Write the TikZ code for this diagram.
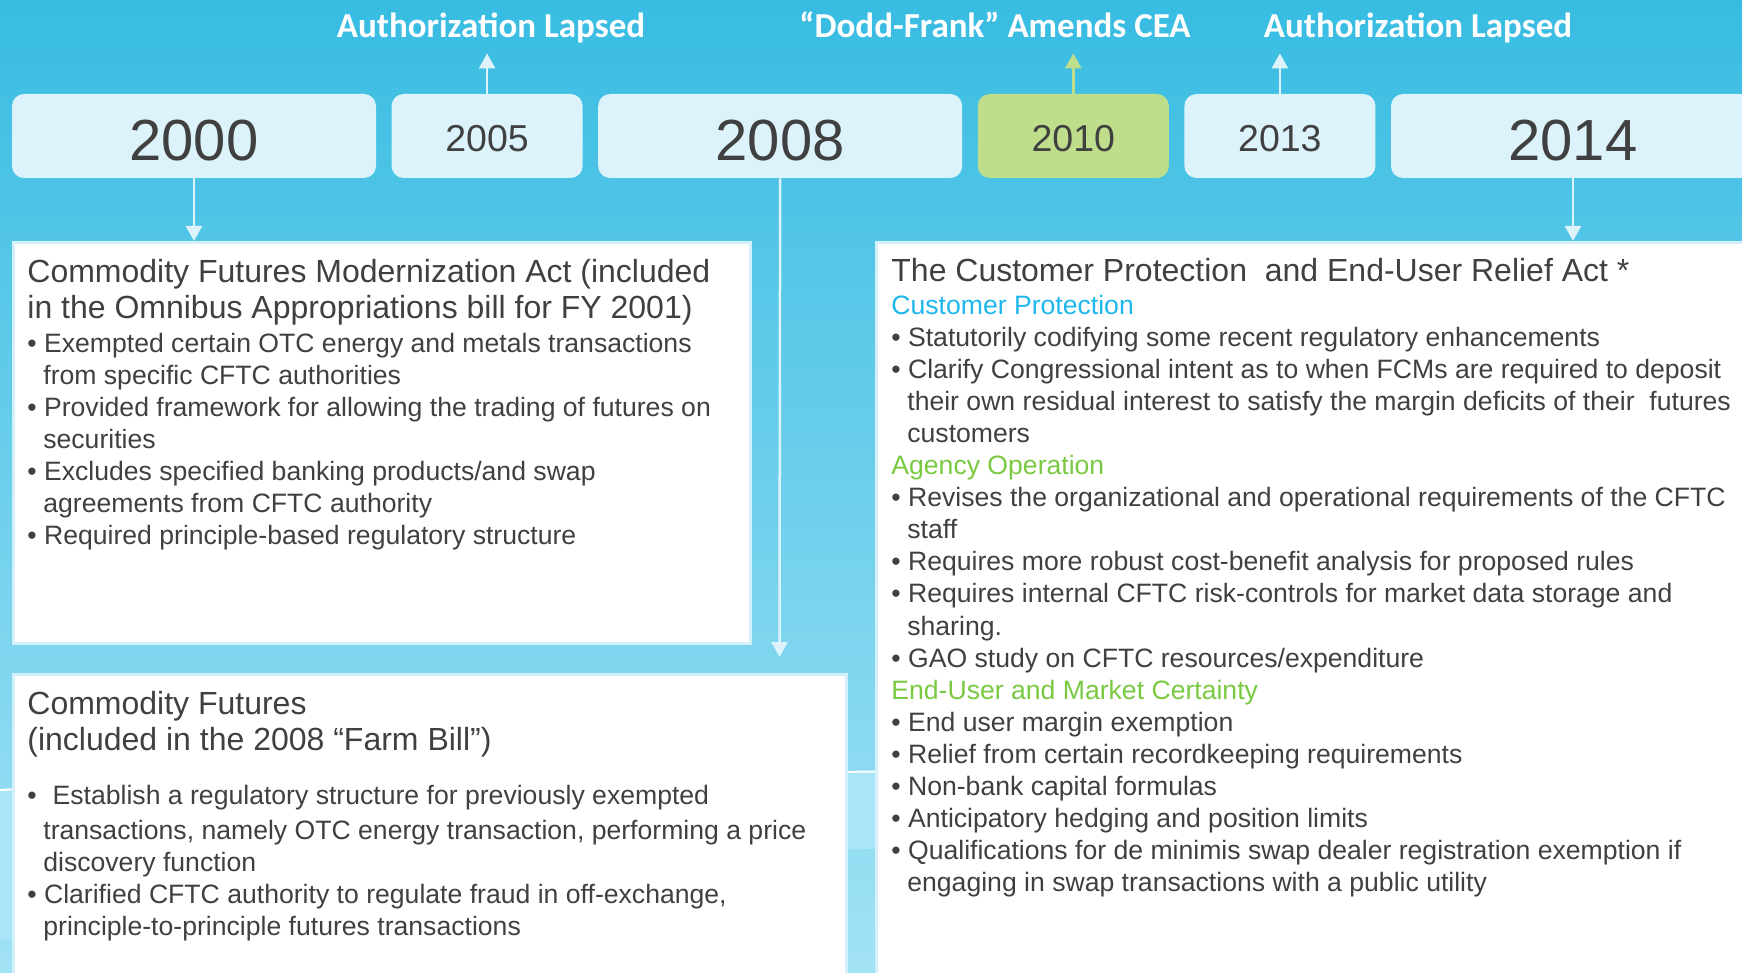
\documentclass[tikz,border=0pt]{standalone}
\usepackage{fontspec}
\setmainfont{Liberation Sans}
\newfontfamily\labelfont{Carlito}
\usetikzlibrary{positioning,arrows.meta}
\definecolor{bgtop}{HTML}{38BCE2}
\definecolor{bgbottom}{HTML}{A2E2F5}
\definecolor{wavelight}{HTML}{A9E5F7}
\definecolor{yearfill}{HTML}{DDF3FB}
\definecolor{greenfill}{HTML}{BEDE8C}
\definecolor{textgray}{HTML}{404040}
\definecolor{panelline}{HTML}{D4F0FA}
\definecolor{cpblue}{HTML}{1DB7EC}
\definecolor{aggreen}{HTML}{7AC943}
\newcommand{\itm}{\textbullet\ }
\newcommand{\contind}{\hspace*{0.6em}}
\tikzset{year box/.style={rectangle,rounded corners=6pt,fill=yearfill,text=textgray,minimum height=42pt,inner sep=0pt,text depth=0pt},
big year/.style={year box,minimum width=182pt,text height=24.5pt,font=\fontsize{29}{34}\selectfont},
small year/.style={year box,minimum width=95.5pt,text height=15.4pt,font=\fontsize{18.75}{22}\selectfont},
panel/.style={rectangle,fill=white,draw=panelline,line width=1.5pt,anchor=north west,inner sep=0pt},
title text/.style={anchor=base west,align=left,inner sep=0pt,text=textgray,font=\fontsize{16}{18}\selectfont},
body text/.style={anchor=base west,align=left,inner sep=0pt,text=textgray,font=\fontsize{13.3}{16.05}\selectfont},
event label/.style={anchor=base,inner sep=4pt,text depth=3.5pt,text=white,font=\labelfont\bfseries\fontsize{17.5}{21}\selectfont},
link/.style={color=yearfill,line width=1.25pt,-{Triangle[width=8pt,length=7.5pt]}},
}

\begin{document}
\begin{tikzpicture}[x=0.5pt,y=-0.5pt,node distance=7.4pt]
	\clip (0,0) rectangle (1742,973);
	\shade[top color=bgtop,bottom color=bgbottom] (0,0) rectangle (1742,973);
	\fill[wavelight] (0,790) .. controls (500,760) and (1000,790) .. (1742,740)
		-- (1742,900) .. controls (1200,830) and (600,820) .. (0,940) -- cycle;
	\draw[white,line width=1pt] (0,790) .. controls (500,760) and (1000,790) .. (1742,740);
	
	% years
	\node[big year] (y2000) at (194,136) {2000};
	\node[small year] (y2005) [right = of y2000] {2005};
	\node[big year] (y2008) [right = of y2005] {2008};
	\node[small year,fill=greenfill] (y2010) [right = of y2008] {2010};
	\node[small year] (y2013) [right = of y2010] {2013};
	\node[big year] (y2014) [right = of y2013] {2014};
	
	% events above
	\node[event label] (lab2005) at (491,38) {Authorization Lapsed};
	\node[event label] (lab2010) at (995,38) {“Dodd-Frank” Amends CEA};
	\node[event label] (lab2013) at (1418,38) {Authorization Lapsed};
	
	% panels
	\node[panel,minimum width=368.5pt,minimum height=200.5pt] (box1) at (12,241) {};
	\node[panel,minimum width=416.5pt,minimum height=160pt] (box2) at (12,673) {};
	\node[panel,minimum width=445pt,minimum height=380pt] (box3) at (875,241) {};
	\coordinate (e2008) at (779.5,657);
	
	\draw[link] (y2000) -- (y2000.south |- box1.north);
	\draw[link] (y2008) -- (e2008);
	\draw[link] (y2014) -- (y2014.south |- box3.north);
	\draw[link] (y2005) -- (y2005.north |- lab2005.south);
	\draw[link] (y2013) -- (y2013.north |- lab2013.south);
	\draw[link,color=greenfill] (y2010) -- (y2010.north |- lab2010.south);
	
	% texts (base = last line)
	\node[title text] (t1head) at (27,319) {Commodity Futures Modernization Act (included\\in the Omnibus Appropriations bill for FY 2001)};
	\node[body text] (t1body) at (27,544.6) {\itm Exempted certain OTC energy and metals transactions\\
		\contind from specific CFTC authorities\\
		\itm Provided framework for allowing the trading of futures on\\
		\contind securities\\
		\itm Excludes specified banking products/and swap\\
		\contind agreements from CFTC authority\\
		\itm Required principle-based regulatory structure};
	
	\node[title text] (t2head) at (27,750) {Commodity Futures\\(included in the 2008 “Farm Bill”)};
	\node[body text] (t2body) at (27,935.4) {\textbullet\hspace{0.6em}Establish a regulatory structure for previously exempted\\[1.5pt]
		\contind transactions, namely OTC energy transaction, performing a price\\
		\contind discovery function\\
		\itm Clarified CFTC authority to regulate fraud in off-exchange,\\
		\contind principle-to-principle futures transactions};
	
	\node[title text] (t3head) at (891,282) {The Customer Protection\ \ and End-User Relief Act *};
	\node[body text] (t3body) at (891,891.8) {{\color{cpblue}Customer Protection}\\
		\itm Statutorily codifying some recent regulatory enhancements\\
		\itm Clarify Congressional intent as to when FCMs are required to deposit\\
		\contind their own residual interest to satisfy the margin deficits of their\ \ futures\\
		\contind customers\\
		{\color{aggreen}Agency Operation}\\
		\itm Revises the organizational and operational requirements of the CFTC\\
		\contind staff\\
		\itm Requires more robust cost-benefit analysis for proposed rules\\
		\itm Requires internal CFTC risk-controls for market data storage and\\
		\contind sharing.\\
		\itm GAO study on CFTC resources/expenditure\\
		{\color{aggreen}End-User and Market Certainty}\\
		\itm End user margin exemption\\
		\itm Relief from certain recordkeeping requirements\\
		\itm Non-bank capital formulas\\
		\itm Anticipatory hedging and position limits\\
		\itm Qualifications for de minimis swap dealer registration exemption if\\
		\contind engaging in swap transactions with a public utility};
\end{tikzpicture}
\end{document}
